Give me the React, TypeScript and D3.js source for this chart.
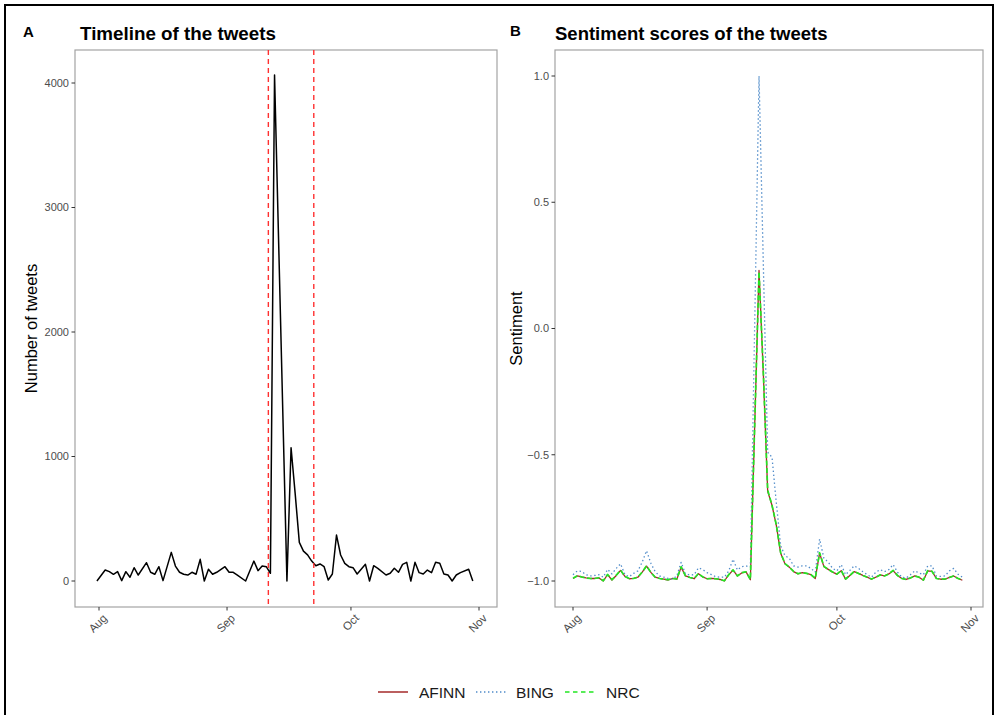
import React from "react";
import * as d3 from "d3";

// ---------- data ----------
const monthTicks = ["2019-08-01", "2019-09-01", "2019-10-01", "2019-11-01"];
const countTicks = [0, 1000, 2000, 3000, 4000];
const sentimentTicks = [-1, -0.5, 0, 0.5, 1];
const eventDates = ["2019-09-11", "2019-09-22"];

// Panel A: day offsets from the start timestamp, and tweet counts
const tweetStart = "2019-07-31T12:00:00Z";
const tweetDays = [0, 2, 3, 4, 5, 6, 7, 8, 9, 10, 12, 13, 14, 15, 16, 18, 19, 20, 21, 22, 23, 24, 25, 26, 27, 28, 29, 31, 32, 33, 34, 36, 38, 39, 40, 41, 42, 43, 46, 47, 48, 49, 50, 51, 52, 53, 54, 55, 56, 57, 58, 59, 60, 61, 62, 63, 65, 66, 67, 68, 70, 71, 72, 73, 74, 75, 76, 77, 78, 79, 80, 81, 82, 83, 84, 85, 86, 87, 88, 90, 91];
const tweetCounts = [0, 88, 75, 54, 75, 3, 75, 30, 107, 48, 147, 70, 54, 115, 3, 230, 120, 70, 54, 48, 70, 54, 174, 0, 94, 54, 70, 115, 70, 70, 48, 0, 160, 83, 120, 115, 62, 4065, 0, 1070, 700, 310, 240, 210, 160, 123, 137, 115, 8, 56, 369, 209, 142, 115, 107, 56, 134, 0, 123, 102, 48, 62, 102, 70, 134, 150, 0, 150, 67, 56, 88, 67, 150, 142, 56, 48, 0, 48, 67, 94, 0];

// Panel B: daily sentiment from this date
const sentimentStart = "2019-08-01";
const seriesNames = ["AFINN", "BING", "NRC"];
const afinn = [-0.990, -0.980, -0.984, -0.988, -0.990, -0.990, -0.988, -1.000, -0.975, -0.996, -0.978, -0.958, -0.982, -0.991, -0.990, -0.985, -0.965, -0.941, -0.966, -0.985, -0.990, -0.993, -0.996, -0.990, -0.993, -0.945, -0.980, -0.986, -0.991, -0.971, -0.984, -0.991, -0.990, -0.991, -0.994, -1.000, -0.975, -0.957, -0.980, -0.968, -0.964, -0.995, -0.385, 0.230, -0.180, -0.645, -0.700, -0.780, -0.890, -0.932, -0.945, -0.963, -0.972, -0.967, -0.970, -0.975, -0.990, -0.890, -0.943, -0.954, -0.965, -0.973, -0.959, -0.993, -0.978, -0.963, -0.970, -0.978, -0.985, -0.993, -0.985, -0.976, -0.980, -0.972, -0.959, -0.978, -0.990, -0.994, -0.988, -0.980, -0.985, -0.997, -0.960, -0.962, -0.990, -0.993, -0.993, -0.986, -0.980, -0.990, -0.997];
const bing = [-0.975, -0.960, -0.962, -0.975, -0.980, -0.978, -0.975, -0.985, -0.954, -0.972, -0.950, -0.932, -0.975, -0.983, -0.970, -0.960, -0.925, -0.880, -0.930, -0.963, -0.980, -0.985, -0.990, -0.993, -0.980, -0.926, -0.972, -0.976, -0.975, -0.948, -0.955, -0.967, -0.975, -0.983, -0.985, -0.985, -0.960, -0.914, -0.956, -0.943, -0.940, -0.945, 0.020, 1.000, 0.250, -0.490, -0.510, -0.690, -0.860, -0.900, -0.910, -0.940, -0.945, -0.940, -0.940, -0.950, -0.965, -0.834, -0.910, -0.925, -0.950, -0.960, -0.935, -0.975, -0.958, -0.940, -0.950, -0.963, -0.975, -0.985, -0.965, -0.955, -0.963, -0.955, -0.935, -0.965, -0.985, -0.988, -0.975, -0.960, -0.968, -0.975, -0.940, -0.940, -0.980, -0.982, -0.980, -0.960, -0.950, -0.973, -0.985];
const nrc = [-0.989, -0.979, -0.984, -0.988, -0.990, -0.990, -0.987, -0.999, -0.974, -0.995, -0.977, -0.957, -0.982, -0.990, -0.990, -0.985, -0.964, -0.940, -0.966, -0.985, -0.990, -0.993, -0.995, -0.990, -0.992, -0.944, -0.980, -0.986, -0.990, -0.970, -0.984, -0.991, -0.990, -0.991, -0.994, -0.999, -0.975, -0.956, -0.980, -0.967, -0.964, -0.994, -0.380, 0.225, -0.175, -0.640, -0.700, -0.778, -0.888, -0.931, -0.945, -0.962, -0.971, -0.967, -0.970, -0.975, -0.989, -0.888, -0.942, -0.954, -0.964, -0.973, -0.958, -0.992, -0.978, -0.962, -0.970, -0.978, -0.985, -0.992, -0.985, -0.976, -0.980, -0.972, -0.958, -0.978, -0.990, -0.994, -0.988, -0.980, -0.985, -0.996, -0.959, -0.962, -0.990, -0.993, -0.992, -0.986, -0.980, -0.990, -0.996];

const seriesValues = [afinn, bing, nrc];
const seriesColors = ["#A52A2A", "#4F8BC9", "#22E622"];
const seriesDash = ["none", "1.4,2.6", "5,2.5"];
const seriesWidth = [1.3, 1.3, 1.7];

const FONT = "'Liberation Sans', Arial, Helvetica, sans-serif";
const TICK_COL = "#4D4D4D";
const BORDER_COL = "#A3A3A3";

type Pt = [Date, number];

function Axes(props: {
  x: d3.ScaleTime<number, number>;
  y: d3.ScaleLinear<number, number>;
  box: { l: number; r: number; t: number; b: number };
  yTicks: number[];
  yFmt: (v: number) => string;
}) {
  const { x, y, box, yTicks, yFmt } = props;
  const fmtMonth = d3.utcFormat("%b");
  return (
    <g>
      <rect x={box.l} y={box.t} width={box.r - box.l} height={box.b - box.t} fill="none" stroke={BORDER_COL} strokeWidth={1.2} />
      {yTicks.map((v) => (
        <g key={"y" + v}>
          <line x1={box.l - 3.5} x2={box.l} y1={y(v)} y2={y(v)} stroke="#333" strokeWidth={1} />
          <text x={box.l - 6} y={y(v)} dy="0.35em" textAnchor="end" fontSize={11} fill={TICK_COL} fontFamily={FONT}>
            {yFmt(v)}
          </text>
        </g>
      ))}
      {monthTicks.map((s) => {
        const d = new Date(s);
        const px = x(d);
        return (
          <g key={"x" + s}>
            <line x1={px} x2={px} y1={box.b} y2={box.b + 3.5} stroke="#333" strokeWidth={1} />
            <text transform={`translate(${px + 3},${box.b + 6}) rotate(-45)`} dy="0.72em" textAnchor="end" fontSize={11.5} fill={TICK_COL} fontFamily={FONT}>
              {fmtMonth(d)}
            </text>
          </g>
        );
      })}
    </g>
  );
}

export default function App() {
  const W = 998;
  const H = 715;

  // Panel A
  const boxA = { l: 75, r: 497, t: 50, b: 607 };
  const xA = d3.scaleUtc().domain([new Date(monthTicks[0]), new Date(monthTicks[3])]).range([99, 479]);
  const yA = d3.scaleLinear().domain([0, 4000]).range([581, 83]);
  const startA = new Date(tweetStart);
  const ptsA: Pt[] = tweetDays.map((k, i) => [d3.utcDay.offset(startA, k), tweetCounts[i]]);
  const lineA = d3.line<Pt>().x((d) => xA(d[0])).y((d) => yA(d[1]));

  // Panel B
  const boxB = { l: 555, r: 983, t: 50, b: 607 };
  const xB = d3.scaleUtc().domain([new Date(monthTicks[0]), new Date(monthTicks[3])]).range([573, 971]);
  const yB = d3.scaleLinear().domain([-1, 1]).range([581, 76]);
  const startB = new Date(sentimentStart);
  const lineB = d3.line<Pt>().x((d) => xB(d[0])).y((d) => yB(d[1]));

  const legendItems = [
    { lx: 378, tx: 419 },
    { lx: 476, tx: 516 },
    { lx: 565, tx: 606 },
  ];

  return (
    <svg width={W} height={H} style={{ position: "absolute", left: 0, top: 0, display: "block", background: "#fff" }} fontFamily={FONT}>
      <rect x={0} y={0} width={W} height={H} fill="#fff" />
      {/* outer frame */}
      <path d={`M5,${H + 5} V5 H993 V${H + 5}`} fill="none" stroke="#000" strokeWidth={2} />

      {/* Panel A */}
      <text x={23} y={37} fontSize={15} fontWeight="bold" fill="#000">A</text>
      <text x={80} y={40} fontSize={18.8} fontWeight="bold" fill="#000">Timeline of the tweets</text>
      <Axes x={xA} y={yA} box={boxA} yTicks={countTicks} yFmt={(v) => String(v)} />
      <text transform={`translate(37,${(boxA.t + boxA.b) / 2}) rotate(-90)`} textAnchor="middle" fontSize={16.5} fill="#000">
        Number of tweets
      </text>
      <path d={lineA(ptsA) || ""} fill="none" stroke="#000" strokeWidth={1.5} strokeLinejoin="round" />
      {eventDates.map((s) => (
        <line key={s} x1={xA(new Date(s))} x2={xA(new Date(s))} y1={boxA.t} y2={boxA.b} stroke="#FF3030" strokeWidth={1.4} strokeDasharray="5,4" />
      ))}

      {/* Panel B */}
      <text x={510} y={36} fontSize={15} fontWeight="bold" fill="#000">B</text>
      <text x={555} y={40} fontSize={18.5} fontWeight="bold" fill="#000">Sentiment scores of the tweets</text>
      <Axes x={xB} y={yB} box={boxB} yTicks={sentimentTicks} yFmt={(v) => d3.format(".1f")(v)} />
      <text transform={`translate(522,${(boxB.t + boxB.b) / 2}) rotate(-90)`} textAnchor="middle" fontSize={16.5} fill="#000">
        Sentiment
      </text>
      {seriesValues.map((vals, si) => {
        const pts: Pt[] = vals.map((v, i) => [d3.utcDay.offset(startB, i), v]);
        return (
          <path key={seriesNames[si]} d={lineB(pts) || ""} fill="none" stroke={seriesColors[si]} strokeWidth={seriesWidth[si]}
            strokeDasharray={seriesDash[si] === "none" ? undefined : seriesDash[si]} strokeLinejoin="round" />
        );
      })}

      {/* Legend */}
      {seriesNames.map((n, i) => (
        <g key={n}>
          <line x1={legendItems[i].lx} x2={legendItems[i].lx + 30} y1={692} y2={692} stroke={seriesColors[i]} strokeWidth={1.5}
            strokeDasharray={i === 2 ? "4.5,3.5" : seriesDash[i] === "none" ? undefined : seriesDash[i]} />
          <text x={legendItems[i].tx} y={692} dy="0.36em" fontSize={15.5} fill="#1a1a1a">{n}</text>
        </g>
      ))}
    </svg>
  );
}
